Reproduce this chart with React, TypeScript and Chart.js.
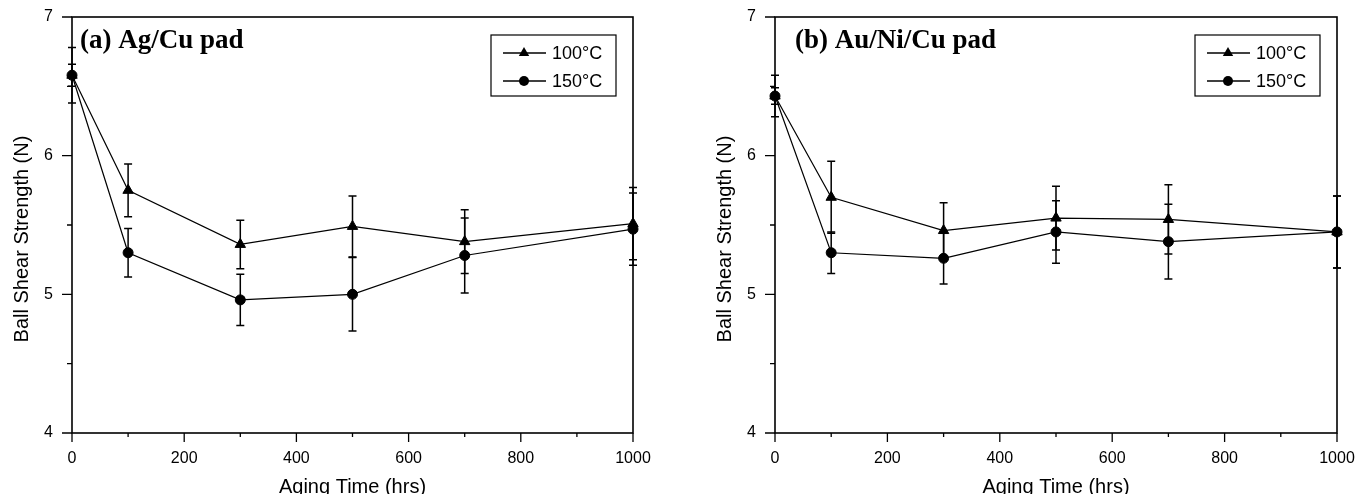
import React, { useEffect, useRef } from 'react';
import { Chart, registerables } from 'chart.js';

Chart.register(...registerables);

// ---- data ----
const hours = [0, 100, 300, 500, 700, 1000];
const seriesLabels = ['100°C', '150°C'];
const xTickLabels = ['0', '200', '400', '600', '800', '1000'];
const yTickLabels = ['4', '5', '6', '7'];
const xTitle = 'Aging Time (hrs)';
const yTitle = 'Ball Shear Strength (N)';

const agCu100 = [6.58, 5.75, 5.36, 5.49, 5.38, 5.51];
const agCu100Err = [0.2, 0.19, 0.175, 0.22, 0.23, 0.26];
const agCu150 = [6.58, 5.30, 4.96, 5.00, 5.28, 5.47];
const agCu150Err = [0.08, 0.175, 0.185, 0.265, 0.27, 0.26];

const auNiCu100 = [6.43, 5.70, 5.46, 5.55, 5.54, 5.45];
const auNiCu100Err = [0.15, 0.26, 0.2, 0.23, 0.25, 0.26];
const auNiCu150 = [6.43, 5.30, 5.26, 5.45, 5.38, 5.45];
const auNiCu150Err = [0.06, 0.15, 0.185, 0.225, 0.27, 0.26];

const SANS = "'Liberation Sans', Arial, sans-serif";
const SERIF = "'Liberation Serif', 'Times New Roman', serif";

function drawMarker(ctx: CanvasRenderingContext2D, style: string, x: number, y: number, r: number) {
  ctx.beginPath();
  if (style === 'triangle') {
    for (let k = 0; k < 3; k++) {
      const a = (k * 2 * Math.PI) / 3;
      const px = x + Math.sin(a) * r;
      const py = y - Math.cos(a) * r;
      if (k === 0) ctx.moveTo(px, py);
      else ctx.lineTo(px, py);
    }
    ctx.closePath();
  } else {
    ctx.arc(x, y, r, 0, Math.PI * 2);
  }
  ctx.fill();
}

const decorPlugin = {
  id: 'decor',
  beforeDatasetsDraw(chart: any, _args: any, opts: any) {
    const ctx = chart.ctx as CanvasRenderingContext2D;
    const xs = chart.scales.x;
    const ys = chart.scales.y;
    ctx.save();
    ctx.strokeStyle = '#000';
    ctx.lineWidth = 1.5;
    chart.data.datasets.forEach((ds: any, i: number) => {
      const errs: number[] = opts.errors[i];
      ds.data.forEach((p: any, j: number) => {
        const x = xs.getPixelForValue(p.x);
        const yt = ys.getPixelForValue(p.y + errs[j]);
        const yb = ys.getPixelForValue(p.y - errs[j]);
        ctx.beginPath();
        ctx.moveTo(x, yt);
        ctx.lineTo(x, yb);
        ctx.moveTo(x - 4, yt);
        ctx.lineTo(x + 4, yt);
        ctx.moveTo(x - 4, yb);
        ctx.lineTo(x + 4, yb);
        ctx.stroke();
      });
    });
    ctx.restore();
  },
  afterDraw(chart: any, _args: any, opts: any) {
    const ctx = chart.ctx as CanvasRenderingContext2D;
    const { left, right, top, bottom } = chart.chartArea;
    const xs = chart.scales.x;
    const ys = chart.scales.y;
    ctx.save();
    ctx.strokeStyle = '#000';
    ctx.fillStyle = '#000';
    // frame
    ctx.lineWidth = 1.6;
    ctx.strokeRect(left, top, right - left, bottom - top);
    // ticks
    ctx.lineWidth = 1.3;
    ctx.beginPath();
    xs.ticks.forEach((t: any) => {
      const x = xs.getPixelForValue(t.value);
      const major = t.value % 200 === 0;
      ctx.moveTo(x, bottom);
      ctx.lineTo(x, bottom + (major ? 9 : 4));
    });
    ys.ticks.forEach((t: any) => {
      const y = ys.getPixelForValue(t.value);
      const major = Math.abs(t.value - Math.round(t.value)) < 1e-6;
      ctx.moveTo(left, y);
      ctx.lineTo(left - (major ? 10 : 5), y);
    });
    ctx.stroke();
    // y title
    ctx.save();
    ctx.translate(left - 50, (top + bottom) / 2 + 14);
    ctx.rotate(-Math.PI / 2);
    ctx.font = `20px ${SANS}`;
    ctx.textAlign = 'center';
    ctx.textBaseline = 'middle';
    ctx.fillText(yTitle, 0, 0);
    ctx.restore();
    // panel label
    ctx.font = `bold 27px ${SERIF}`;
    ctx.textBaseline = 'alphabetic';
    ctx.textAlign = 'left';
    ctx.fillText(opts.panelLabel, left + opts.labelDx, top + 31);
    // legend
    const bw = 125;
    const bh = 61;
    const bx = right - 17 - bw;
    const by = top + 18;
    ctx.lineWidth = 1.2;
    ctx.strokeRect(bx, by, bw, bh);
    chart.data.datasets.forEach((ds: any, i: number) => {
      const y = by + 18 + i * 28;
      ctx.lineWidth = 1.5;
      ctx.beginPath();
      ctx.moveTo(bx + 12, y);
      ctx.lineTo(bx + 55, y);
      ctx.stroke();
      drawMarker(ctx, ds.pointStyle, bx + 33, y, ds.pointStyle === 'triangle' ? 6 : 5);
      ctx.font = `18px ${SANS}`;
      ctx.textBaseline = 'middle';
      ctx.fillText(ds.label, bx + 61, y + 1);
    });
    ctx.restore();
  },
};

type PanelProps = {
  panelLabel: string;
  labelDx: number;
  s100: number[];
  e100: number[];
  s150: number[];
  e150: number[];
  padLeft: number;
  padRight: number;
};

function Panel(props: PanelProps) {
  const ref = useRef<HTMLCanvasElement | null>(null);
  useEffect(() => {
    if (!ref.current) return;
    const mk = (vals: number[]) => hours.map((h, i) => ({ x: h, y: vals[i] }));
    const chart = new Chart(ref.current, {
      type: 'line',
      data: {
        datasets: [
          {
            label: seriesLabels[0],
            data: mk(props.s100),
            borderColor: '#000',
            borderWidth: 1.2,
            pointStyle: 'triangle',
            pointRadius: 6,
            pointBackgroundColor: '#000',
            pointBorderColor: '#000',
            pointBorderWidth: 1,
            tension: 0,
            clip: false as any,
          },
          {
            label: seriesLabels[1],
            data: mk(props.s150),
            borderColor: '#000',
            borderWidth: 1.2,
            pointStyle: 'circle',
            pointRadius: 5,
            pointBackgroundColor: '#000',
            pointBorderColor: '#000',
            pointBorderWidth: 1,
            tension: 0,
            clip: false as any,
          },
        ],
      },
      options: {
        animation: false,
        responsive: false,
        devicePixelRatio: 1,
        events: [],
        layout: { padding: { left: props.padLeft, right: props.padRight, top: 17, bottom: 0 } },
        plugins: {
          legend: { display: false },
          tooltip: { enabled: false },
          decor: { errors: [props.e100, props.e150], panelLabel: props.panelLabel, labelDx: props.labelDx },
        } as any,
        scales: {
          x: {
            type: 'linear',
            min: 0,
            max: 1000,
            ticks: {
              stepSize: 100,
              autoSkip: false,
              maxRotation: 0,
              padding: 7,
              color: '#000',
              font: { family: SANS, size: 16 },
              callback: (v: any) => (xTickLabels.includes(String(v)) ? String(v) : ''),
            },
            grid: { display: true, drawOnChartArea: false, drawTicks: true, tickLength: 9, color: 'rgba(0,0,0,0)' },
            border: { display: false },
            title: {
              display: true,
              text: xTitle,
              color: '#000',
              font: { family: SANS, size: 20, lineHeight: 1 },
              padding: { top: 0, bottom: -3 },
            },
            afterFit: (s: any) => {
              s.height = 61;
              s.paddingLeft = 0;
              s.paddingRight = 0;
            },
          },
          y: {
            type: 'linear',
            min: 4,
            max: 7,
            ticks: {
              stepSize: 0.5,
              autoSkip: false,
              padding: 9,
              color: '#000',
              font: { family: SANS, size: 16 },
              callback: (v: any) => (yTickLabels.includes(String(v)) ? String(v) : ''),
            },
            grid: { display: true, drawOnChartArea: false, drawTicks: true, tickLength: 10, color: 'rgba(0,0,0,0)' },
            border: { display: false },
            title: { display: false },
            afterFit: (s: any) => {
              s.width = 72;
              s.paddingTop = 0;
              s.paddingBottom = 0;
            },
          },
        },
      } as any,
      plugins: [decorPlugin as any],
    });
    return () => chart.destroy();
  }, []);
  return <canvas ref={ref} width={678} height={494} style={{ display: 'block', width: 678, height: 494 }} />;
}

export default function App() {
  useEffect(() => {
    document.body.style.margin = '0';
    document.body.style.overflow = 'hidden';
    document.body.style.background = '#fff';
  }, []);
  return (
    <div style={{ display: 'flex', flexDirection: 'row', width: 1356, height: 494, background: '#fff' }}>
      <Panel panelLabel="(a) Ag/Cu pad" labelDx={8} s100={agCu100} e100={agCu100Err} s150={agCu150} e150={agCu150Err} padLeft={0} padRight={45} />
      <Panel panelLabel="(b) Au/Ni/Cu pad" labelDx={20} s100={auNiCu100} e100={auNiCu100Err} s150={auNiCu150} e150={auNiCu150Err} padLeft={25} padRight={19} />
    </div>
  );
}
